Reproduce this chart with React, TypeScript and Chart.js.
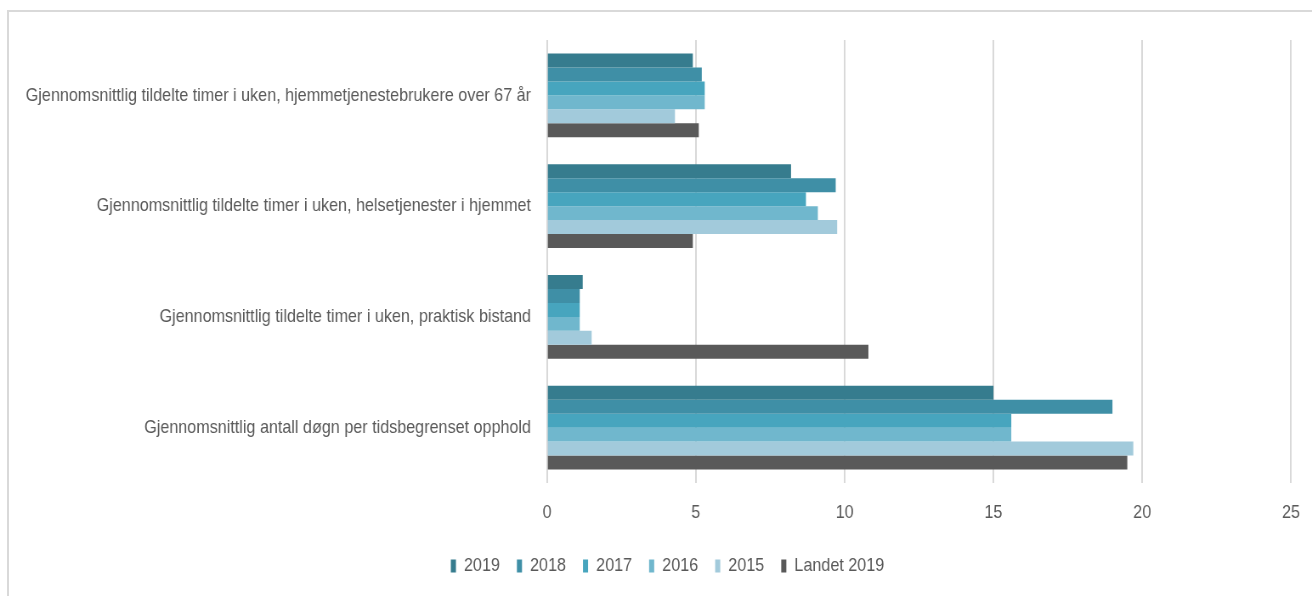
import React, { useEffect, useRef } from "react";
import { Chart, registerables } from "chart.js";

Chart.register(...registerables);

const categories: string[] = [
  "Gjennomsnittlig tildelte timer i uken, hjemmetjenestebrukere over 67 år",
  "Gjennomsnittlig tildelte timer i uken, helsetjenester i hjemmet",
  "Gjennomsnittlig tildelte timer i uken, praktisk bistand",
  "Gjennomsnittlig antall døgn per tidsbegrenset opphold",
];

const seriesNames: string[] = ["2019", "2018", "2017", "2016", "2015", "Landet 2019"];

const values2019: number[] = [4.9, 8.2, 1.2, 15.0];
const values2018: number[] = [5.2, 9.7, 1.1, 19.0];
const values2017: number[] = [5.3, 8.7, 1.1, 15.6];
const values2016: number[] = [5.3, 9.1, 1.1, 15.6];
const values2015: number[] = [4.3, 9.75, 1.5, 19.7];
const valuesLandet: number[] = [5.1, 4.9, 10.8, 19.5];

const xTickLabels: number[] = [0, 5, 10, 15, 20, 25];

const seriesColors: string[] = ["#367C8E", "#3F8FA6", "#47A5BE", "#70B7CD", "#A2CADB", "#595959"];

const FONT = "'Liberation Sans', Arial, sans-serif";
const TEXT = "#595959";

// The reference is horizontally condensed; render wider and squeeze with CSS.
const VIEW_W = 1312;
const VIEW_H = 596;
const CANVAS_W = 1544;
const SX = VIEW_W / CANVAS_W;

const PLOT_LEFT = 547 / SX;
const PLOT_RIGHT = 1291 / SX;
const LEGEND_SHIFT = 667.5 / SX - PLOT_RIGHT / 2;

export default function App() {
  const canvasRef = useRef<HTMLCanvasElement | null>(null);

  useEffect(() => {
    document.body.style.overflow = "hidden";
    const canvas = canvasRef.current;
    if (!canvas) return;
    const allValues = [values2019, values2018, values2017, values2016, values2015, valuesLandet];
    const legendShift = {
      id: "legendShift",
      afterLayout(chart: any) {
        const l = chart.legend;
        if (l) {
          l.left += LEGEND_SHIFT;
          l.right += LEGEND_SHIFT;
        }
      },
    };
    const chart = new Chart(canvas, {
      type: "bar",
      data: {
        labels: categories,
        datasets: seriesNames.map((name, i) => ({
          label: name,
          data: allValues[i],
          backgroundColor: seriesColors[i],
          borderWidth: 0,
          categoryPercentage: 0.758,
          barPercentage: 1.0,
        })),
      },
      options: {
        indexAxis: "y",
        responsive: false,
        animation: false,
        maintainAspectRatio: false,
        layout: { padding: { top: 40, right: CANVAS_W - PLOT_RIGHT, left: 0, bottom: 10.5 } },
        plugins: {
          legend: {
            position: "bottom",
            labels: {
              boxWidth: 6,
              boxHeight: 13,
              padding: 20,
              color: TEXT,
              font: { family: FONT, size: 19 },
            },
          },
          tooltip: { enabled: false },
        },
        scales: {
          x: {
            min: 0,
            max: 25,
            afterFit: (scale: any) => {
              scale.height = 53.5;
              scale.paddingLeft = 0;
              scale.paddingRight = 0;
            },
            afterBuildTicks: (scale: any) => {
              scale.ticks = xTickLabels.map((v) => ({ value: v }));
            },
            grid: { color: "#d9d9d9", lineWidth: 2, drawTicks: false },
            border: { display: false },
            ticks: {
              color: TEXT,
              padding: 18,
              font: { family: FONT, size: 19 },
            },
          },
          y: {
            afterFit: (scale: any) => {
              scale.width = PLOT_LEFT;
            },
            grid: { display: false, drawTicks: false },
            border: { display: false },
            ticks: {
              color: TEXT,
              padding: 16 / SX,
              font: { family: FONT, size: 19 },
            },
          },
        },
      },
      plugins: [legendShift],
    });
    return () => chart.destroy();
  }, []);

  return (
    <div>
      <div
        style={{
          position: "fixed",
          left: 7,
          top: 10,
          width: 1400,
          height: 700,
          border: "2px solid #d9d9d9",
          boxSizing: "border-box",
        }}
      />
      <div
        style={{
          position: "fixed",
          left: 0,
          top: 0,
          width: CANVAS_W,
          height: VIEW_H,
          transform: `scaleX(${SX})`,
          transformOrigin: "0 0",
        }}
      >
        <canvas ref={canvasRef} width={CANVAS_W} height={VIEW_H} style={{ width: CANVAS_W, height: VIEW_H }} />
      </div>
    </div>
  );
}
